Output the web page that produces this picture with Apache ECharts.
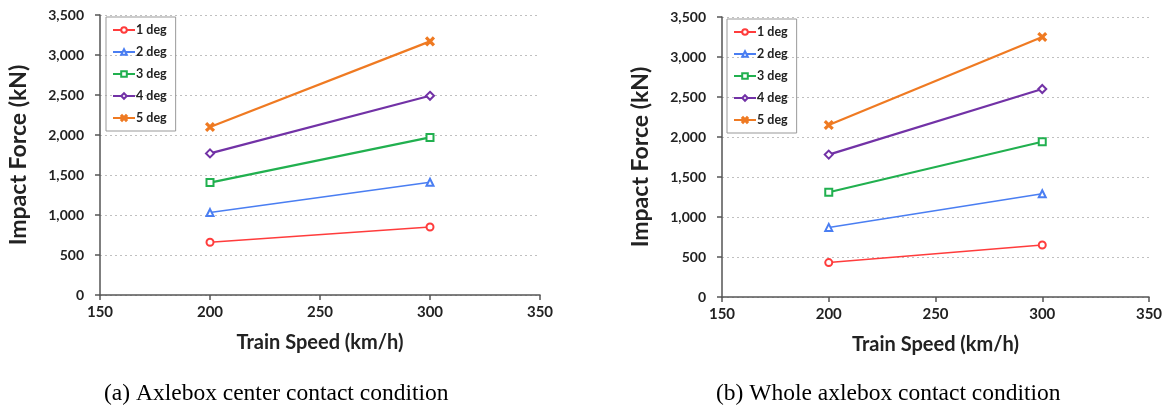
<!DOCTYPE html>
<html>
<head>
<meta charset="utf-8">
<script src="https://cdn.jsdelivr.net/npm/echarts@6/dist/echarts.min.js"></script>
<style>
html,body{margin:0;padding:0;background:#fff;}
#c{width:1170px;height:410px;}
</style>
</head>
<body>
<div id="c"></div>
<script>
// ---- data ----
const speeds = [200, 300];
const seriesNames = ['1 deg', '2 deg', '3 deg', '4 deg', '5 deg'];
// (a) Axlebox center contact condition
const a1 = [660, 850];
const a2 = [1030, 1410];
const a3 = [1405, 1970];
const a4 = [1770, 2490];
const a5 = [2100, 3170];
// (b) Whole axlebox contact condition
const b1 = [430, 650];
const b2 = [870, 1290];
const b3 = [1310, 1940];
const b4 = [1780, 2600];
const b5 = [2150, 3250];
const yTicks = [0, 500, 1000, 1500, 2000, 2500, 3000, 3500];
const xTicks = [150, 200, 250, 300, 350];
const captions = ['(a) Axlebox center contact condition', '(b) Whole axlebox contact condition'];
const xTitle = 'Train Speed (km/h)';
const yTitle = 'Impact Force (kN)';

// ---- styling ----
const colors = ['#ff3c3c', '#4a7ef2', '#21b04f', '#7232a6', '#ef7a22'];
const widths = [1.5, 1.5, 2.2, 2.2, 2.2];
const xPath = 'path://M0,1.5L1.5,0L5,3.5L8.5,0L10,1.5L6.5,5L10,8.5L8.5,10L5,6.5L1.5,10L0,8.5L3.5,5Z';
const symbols = ['emptyCircle', 'emptyTriangle', 'emptyRect', 'emptyDiamond', xPath];
const sizes = [7, 7, 7, 8, 8];
const FONT = 'Lato';
const txt = '#222';

const dataA = [a1, a2, a3, a4, a5];
const dataB = [b1, b2, b3, b4, b5];

function mkSeries(arr, idx) {
  return arr.map((vals, i) => ({
    name: seriesNames[i],
    type: 'line',
    xAxisIndex: idx,
    yAxisIndex: idx,
    data: speeds.map((s, k) => [s, vals[k]]),
    symbol: symbols[i],
    symbolSize: sizes[i],
    color: colors[i],
    lineStyle: { width: widths[i], color: colors[i] },
    itemStyle: { color: colors[i], borderColor: colors[i], borderWidth: 1.5 },
    emphasis: { disabled: true },
    animation: false
  }));
}

function mkX(idx) {
  return {
    type: 'value', gridIndex: idx, min: xTicks[0], max: xTicks[xTicks.length - 1], interval: 50,
    name: xTitle, nameLocation: 'middle', nameGap: 38,
    nameTextStyle: { fontFamily: FONT, fontWeight: 'bold', fontSize: 20, color: txt },
    axisLine: { lineStyle: { color: '#555', width: 1.5 } },
    axisTick: { show: true, length: 5, lineStyle: { color: '#555', width: 1.5 } },
    axisLabel: { fontFamily: FONT, fontWeight: 'bold', fontSize: 15, color: txt, margin: 10 },
    splitLine: { show: false }
  };
}
function mkY(idx) {
  return {
    type: 'value', gridIndex: idx, min: yTicks[0], max: yTicks[yTicks.length - 1], interval: 500,
    name: yTitle, nameLocation: 'middle', nameGap: 70, nameRotate: 90,
    nameTextStyle: { fontFamily: FONT, fontWeight: 'bold', fontSize: 23, color: txt },
    axisLine: { show: true, lineStyle: { color: '#555', width: 1.5 } },
    axisTick: { show: true, length: 5, lineStyle: { color: '#555', width: 1.5 } },
    axisLabel: { fontFamily: FONT, fontWeight: 'bold', fontSize: 14, color: txt, margin: 16,
      formatter: v => v.toLocaleString('en-US') },
    splitLine: { show: true, lineStyle: { color: '#c0c0c0', type: [2, 3], width: 1 } }
  };
}
function mkLegend(left, top) {
  return {
    data: seriesNames, orient: 'vertical', left: left, top: top,
    borderColor: '#999', borderWidth: 1, padding: [6, 9, 6, 6],
    itemWidth: 22, itemHeight: 7, itemGap: 8, selectedMode: false,
    textStyle: { fontFamily: FONT, fontWeight: 'bold', fontSize: 12.5, color: txt, padding: [0, 0, 0, -4], lineHeight: 14 }
  };
}

const chart = echarts.init(document.getElementById('c'), null, { renderer: 'canvas' });
chart.setOption({
  animation: false,
  backgroundColor: '#fff',
  grid: [
    { left: 100, top: 15, width: 440, height: 280 },
    { left: 722, top: 17, width: 427, height: 280 }
  ],
  xAxis: [mkX(0), mkX(1)],
  yAxis: [mkY(0), mkY(1)],
  legend: [mkLegend(106, 17), mkLegend(727, 19)],
  series: mkSeries(dataA, 0).concat(mkSeries(dataB, 1)),
  graphic: [
    { type: 'text', left: 104, top: 382, style: { text: captions[0], fontFamily: 'Liberation Serif', fontSize: 23.5, fill: '#000' } },
    { type: 'text', left: 716, top: 382, style: { text: captions[1], fontFamily: 'Liberation Serif', fontSize: 23.5, fill: '#000' } }
  ]
});
</script>
</body>
</html>
